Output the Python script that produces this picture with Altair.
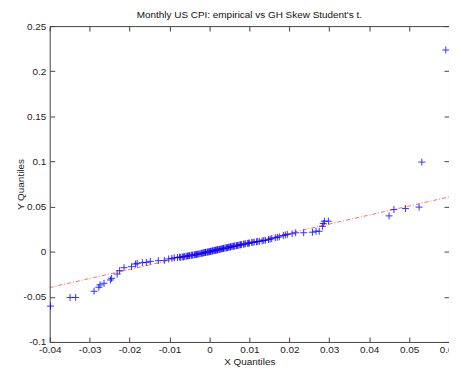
import altair as alt
import pandas as pd

# empirical (x) vs fitted (y) quantiles
x_q = [-0.0398, -0.0349, -0.0335, -0.0289, -0.0277, -0.0274, -0.0264, -0.0248, -0.0245,
       -0.0231, -0.0225, -0.0214, -0.0195, -0.0185, -0.0181, -0.0168, -0.0158, -0.0148,
       -0.0128, -0.0113, -0.0102, -0.0094, -0.0088, -0.0080, -0.0075, -0.0068, -0.0062,
       -0.0055, -0.0050, -0.0046, -0.0042, -0.0038, -0.0034, -0.0030, -0.0027, -0.0024,
       -0.0021, -0.0018, -0.0015, -0.0012, -0.0009, -0.0006, -0.0003, 0.0000, 0.0003,
       0.0006, 0.0009, 0.0012, 0.0015, 0.0018, 0.0021, 0.0024, 0.0027, 0.0030, 0.0033,
       0.0036, 0.0039, 0.0042, 0.0045, 0.0048, 0.0051, 0.0054, 0.0057, 0.0060, 0.0064,
       0.0068, 0.0072, 0.0076, 0.0080, 0.0085, 0.0090, 0.0095, 0.0100, 0.0106, 0.0112,
       0.0118, 0.0125, 0.0132, 0.0140, 0.0148, 0.0156, 0.0165, 0.0175, 0.0185, 0.0195,
       0.0207, 0.0216, 0.0236, 0.0258, 0.0267, 0.0275, 0.0283, 0.0285, 0.0288, 0.0298,
       0.0450, 0.0462, 0.0491, 0.0525, 0.0532, 0.0592,
       -0.0072, -0.0065, -0.0058, -0.0052, -0.0044, -0.0036, -0.0032, -0.0019, -0.0010,
       -0.0004, 0.0002, 0.0008, 0.0014, 0.0020, 0.0026, 0.0035, 0.0044, 0.0053, 0.0062,
       0.0070, 0.0078, 0.0087, 0.0098, 0.0109, 0.0121, 0.0136, 0.0152, 0.0170, 0.0190]
y_q = [-0.0603, -0.0507, -0.0507, -0.0438, -0.0394, -0.0368, -0.0350, -0.0313, -0.0295,
       -0.0247, -0.0210, -0.0177, -0.0165, -0.0137, -0.0129, -0.0121, -0.0118, -0.0107,
       -0.0099, -0.0096, -0.0080, -0.0074, -0.0068, -0.0064, -0.0060, -0.0057, -0.0053,
       -0.0047, -0.0043, -0.0040, -0.0037, -0.0034, -0.0031, -0.0028, -0.0025, -0.0022,
       -0.0019, -0.0016, -0.0013, -0.0010, -0.0008, -0.0005, -0.0002, 0.0001, 0.0004,
       0.0007, 0.0010, 0.0013, 0.0016, 0.0019, 0.0022, 0.0025, 0.0028, 0.0031, 0.0034,
       0.0037, 0.0040, 0.0043, 0.0046, 0.0049, 0.0052, 0.0055, 0.0058, 0.0061, 0.0064,
       0.0068, 0.0071, 0.0075, 0.0079, 0.0084, 0.0088, 0.0092, 0.0097, 0.0102, 0.0106,
       0.0110, 0.0115, 0.0120, 0.0127, 0.0135, 0.0145, 0.0155, 0.0165, 0.0180, 0.0192,
       0.0199, 0.0210, 0.0210, 0.0216, 0.0227, 0.0227, 0.0282, 0.0312, 0.0338, 0.0338,
       0.0397, 0.0467, 0.0478, 0.0494, 0.0993, 0.2235,
       -0.0063, -0.0058, -0.0050, -0.0046, -0.0040, -0.0033, -0.0030, -0.0017, -0.0008,
       -0.0003, 0.0003, 0.0009, 0.0015, 0.0021, 0.0027, 0.0036, 0.0045, 0.0054, 0.0062,
       0.0069, 0.0077, 0.0085, 0.0094, 0.0104, 0.0113, 0.0124, 0.0140, 0.0160, 0.0186]

# reference line end points
line_x = [-0.04, 0.06]
line_y = [-0.0397, 0.0607]

x_ticks = [-0.04, -0.03, -0.02, -0.01, 0, 0.01, 0.02, 0.03, 0.04, 0.05, 0.06]
y_ticks = [-0.1, -0.05, 0, 0.05, 0.1, 0.15, 0.2, 0.25]

pts = pd.DataFrame({"x": x_q, "y": y_q})
ln = pd.DataFrame({"x": line_x, "y": line_y})

FONT = "Liberation Sans"
AX = "#444444"

xscale = alt.Scale(domain=[-0.04, 0.06], nice=False, zero=False)
yscale = alt.Scale(domain=[-0.1, 0.25], nice=False, zero=False)

common = dict(domain=False, grid=False, tickColor=AX, tickSize=5, offset=-5,
              labelFont=FONT, labelFontSize=10, labelColor="#222222",
              titleFont=FONT, titleFontSize=10, titleFontWeight="normal",
              titleColor="#222222")

ax_bottom = alt.Axis(orient="bottom", values=x_ticks, labelExpr="datum.value + ''",
                     title="X Quantiles", labelPadding=3, titlePadding=2,
                     labelFlush=False, labelOverlap=False, **common)
ax_left = alt.Axis(orient="left", values=y_ticks, labelExpr="datum.value + ''",
                   title="Y Quantiles", labelPadding=4, titlePadding=-2,
                   labelFlush=False, labelOverlap=False, **common)
ax_top = alt.Axis(orient="top", values=x_ticks, labels=False, title="", **common)
ax_right = alt.Axis(orient="right", values=y_ticks, labels=False, title="", **common)

points = alt.Chart(pts).mark_point(
    shape="M-1,0L1,0M0,-1L0,1", size=49, filled=False, color="#0000ff",
    strokeWidth=1, opacity=0.8
).encode(
    x=alt.X("x:Q", scale=xscale, axis=ax_bottom),
    y=alt.Y("y:Q", scale=yscale, axis=ax_left),
)

line = alt.Chart(ln).mark_line(
    color="#ff0000", strokeDash=[4, 2, 1, 2], strokeWidth=1, opacity=0.6
).encode(
    x=alt.X("x:Q", scale=xscale, axis=ax_top),
    y=alt.Y("y:Q", scale=yscale, axis=ax_right),
)

chart = alt.layer(points, line).resolve_axis(
    x="independent", y="independent"
).properties(
    width=402, height=318,
    title=alt.TitleParams("Monthly US CPI: empirical vs GH Skew Student's t.",
                          font=FONT, fontSize=10, fontWeight="normal",
                          color="#111111", offset=1, anchor="middle"),
    autosize=alt.AutoSizeParams(type="none"),
    padding={"left": 42, "top": 17, "right": 0, "bottom": 26},
).configure_view(stroke=AX, strokeWidth=1)

chart.save("out.html", embed_options={"renderer": "svg", "actions": False})
